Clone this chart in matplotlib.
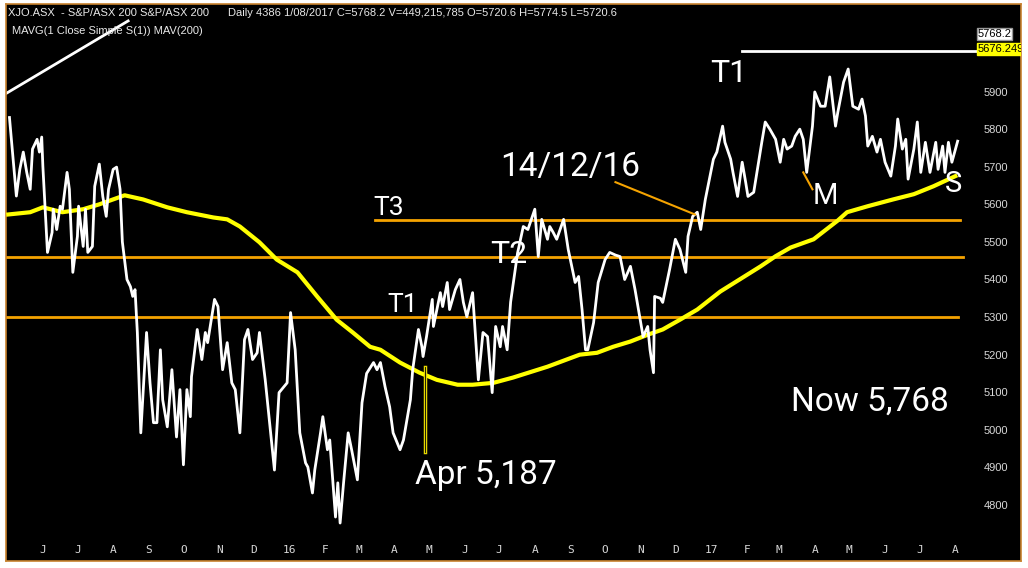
import matplotlib
matplotlib.use("Agg")
import matplotlib.pyplot as plt
import pandas as pd

# days since 1 June 2015 and closing level of the index
price_days = [-29, -23, -20, -17, -14, -11, -9, -5, -3, -1, 0, 4, 8, 9, 12, 15, 17, 21, 23, 26,
              30, 31, 35, 37, 39, 43, 45, 49, 52, 55, 57, 61, 64, 67, 69, 73, 76, 78, 80, 82,
              85, 90, 93, 96, 99, 102, 104, 108, 112, 116, 119, 122, 125, 128, 129, 134, 138, 141, 143, 149,
              152, 156, 160, 164, 167, 171, 175, 178, 182, 186, 188, 193, 201, 205, 212, 215, 219, 223, 228, 230,
              234, 236, 241, 243, 247, 249, 254, 256, 258, 261, 265, 268, 273, 277, 281, 287, 290, 293, 297, 301,
              304, 310, 313, 319, 321, 326, 329, 330, 333, 338, 339, 345, 347, 351, 353, 358, 362, 365, 368, 373,
              378, 382, 386, 390, 393, 397, 399, 403, 406, 412, 417, 421, 427, 430, 433, 438, 440, 443, 446, 452,
              456, 462, 465, 468, 471, 473, 478, 482, 488, 492, 497, 501, 505, 510, 514, 518, 521, 525, 527, 530,
              531, 536, 538, 544, 549, 553, 558, 560, 564, 568, 571, 575, 579, 582, 585, 590, 592, 597, 599, 603,
              607, 610, 612, 617, 624, 627, 631, 636, 640, 643, 646, 650, 653, 657, 660, 663, 668, 670, 675, 679,
              683, 688, 690, 695, 699, 703, 708, 711, 714, 716, 720, 724, 727, 731, 736, 740, 742, 746, 749, 751,
              756, 759, 762, 766, 770, 775, 777, 781, 783, 786, 789, 794]
price = [5831, 5622, 5693, 5739, 5685, 5640, 5747, 5773, 5739, 5779, 5701, 5472, 5525, 5587, 5533, 5595, 5587, 5685, 5640, 5419,
         5515, 5595, 5488, 5587, 5472, 5488, 5648, 5707, 5621, 5568, 5640, 5693, 5699, 5640, 5500, 5400, 5381, 5355, 5373, 5259,
         4992, 5259, 5125, 5019, 5019, 5213, 5080, 5008, 5160, 4981, 5107, 4907, 5107, 5035, 5141, 5267, 5187, 5259, 5232, 5347,
         5328, 5160, 5232, 5125, 5107, 4992, 5240, 5267, 5187, 5205, 5259, 5133, 4893, 5099, 5125, 5312, 5213, 4992, 4912, 4901,
         4832, 4893, 4992, 5035, 4947, 4973, 4768, 4859, 4752, 4859, 4992, 4947, 4867, 5072, 5150, 5179, 5160, 5179, 5115, 5061,
         4992, 4947, 4973, 5080, 5160, 5267, 5221, 5195, 5248, 5347, 5275, 5365, 5328, 5392, 5320, 5373, 5400, 5339, 5301, 5365,
         5133, 5259, 5248, 5099, 5275, 5221, 5275, 5213, 5340, 5470, 5541, 5533, 5587, 5461, 5560, 5507, 5541, 5525, 5507, 5560,
         5480, 5392, 5408, 5320, 5213, 5213, 5285, 5392, 5453, 5472, 5465, 5461, 5400, 5435, 5373, 5301, 5248, 5275, 5213, 5152,
         5355, 5350, 5339, 5427, 5507, 5480, 5419, 5515, 5568, 5579, 5533, 5613, 5675, 5720, 5739, 5808, 5765, 5720, 5685, 5621,
         5712, 5659, 5621, 5632, 5765, 5819, 5800, 5773, 5712, 5773, 5747, 5755, 5781, 5800, 5773, 5685, 5808, 5899, 5861, 5861,
         5939, 5808, 5845, 5925, 5960, 5861, 5853, 5880, 5835, 5755, 5781, 5739, 5773, 5712, 5675, 5755, 5827, 5747, 5773, 5667,
         5747, 5819, 5685, 5765, 5685, 5765, 5693, 5755, 5685, 5765, 5712, 5768]

# 200 day moving average
mav_days = [-30, -11, 0, 17, 35, 49, 71, 87, 108, 125, 148, 160, 171, 188, 203, 221, 238, 255, 269, 284,
            293, 310, 327, 342, 360, 373, 391, 408, 438, 466, 481, 495, 510, 525, 538, 553, 568, 588, 623, 636,
            649, 669, 690, 698, 716, 738, 756, 773, 792]
mav = [5573, 5579, 5592, 5579, 5587, 5600, 5624, 5613, 5592, 5579, 5565, 5560, 5541, 5499, 5453, 5419, 5355, 5293, 5259, 5221,
       5213, 5179, 5152, 5133, 5120, 5120, 5125, 5139, 5168, 5200, 5205, 5221, 5235, 5253, 5267, 5293, 5320, 5368, 5435, 5462,
       5485, 5507, 5557, 5579, 5595, 5613, 5627, 5648, 5675]

# support / resistance levels: (level, first day, last day)
levels = [(5300, -33, 794), (5461, -33, 799), (5557, 288, 796)]
t1_level = 6008
t1_span = (607, 814)

month_labels = ['J', 'J', 'A', 'S', 'O', 'N', 'D', '16', 'F', 'M', 'A', 'M', 'J', 'J',
                'A', 'S', 'O', 'N', 'D', '17', 'F', 'M', 'A', 'M', 'J', 'J', 'A']
y_ticks = [4800, 4900, 5000, 5100, 5200, 5300, 5400, 5500, 5600, 5700, 5800, 5900]

start = pd.Timestamp('2015-06-01')
def to_date(days):
    return start + pd.to_timedelta(days, unit='D')

fig = plt.figure(figsize=(10.28, 5.68), dpi=100, facecolor='white')
ax = fig.add_axes([6 / 1028, 7 / 568, 1015 / 1028, 557 / 568])
ax.set_facecolor('black')
for s in ax.spines.values():
    s.set_color('#c8822e')
    s.set_linewidth(1.2)

# levels
for lv, d0, d1 in levels:
    ax.plot([to_date(d0), to_date(d1)], [lv, lv], color='#f5a300', lw=2, zorder=2)
ax.plot([to_date(t1_span[0]), to_date(t1_span[1])], [t1_level, t1_level], color='white', lw=2, zorder=2)
ax.plot([to_date(-33), to_date(74)], [5893, 6088], color='white', lw=2, zorder=2)

ax.plot(to_date(mav_days), mav, color='#ffff00', lw=3, zorder=3)
ax.plot(to_date(price_days), price, color='white', lw=2, zorder=4)

# annotations
ax.plot([to_date(332), to_date(332)], [5168, 4941], color='#e6d800', lw=2.5, zorder=5)
ax.plot([to_date(332), to_date(332)], [5168, 4941], color='black', lw=0.6, zorder=5)
ax.plot([to_date(497), to_date(566)], [5659, 5573], color='#f5a300', lw=1.5, zorder=5)
ax.plot([to_date(660), to_date(668)], [5685, 5640], color='#f5a300', lw=1.5, zorder=5)

txt = dict(color='white', family='Roboto', fontweight='normal', va='center', ha='left', zorder=6)
ax.text(to_date(287), 5590, 'T3', fontsize=19, **txt)
ax.text(to_date(388), 5467, 'T2', fontsize=23, **txt)
ax.text(to_date(299), 5333, 'T1', fontsize=19, **txt)
ax.text(to_date(579), 5947, 'T1', fontsize=23, **txt)
ax.text(to_date(397), 5699, '14/12/16', fontsize=24, **txt)
ax.text(to_date(323), 4880, 'Apr 5,187', fontsize=24, **txt)
ax.text(to_date(649), 5075, 'Now 5,768', fontsize=24, **txt)
ax.text(to_date(668), 5621, 'M', fontsize=21, **txt)
ax.text(to_date(783), 5653, 'S', fontsize=21, **txt)

# header
hdr = dict(color='#e8e8e8', family='Liberation Sans', fontsize=8, transform=fig.transFigure, va='center')
fig.text(8 / 1028, 1 - 13 / 568, 'XJO.ASX  - S&P/ASX 200 S&P/ASX 200', **hdr)
fig.text(228 / 1028, 1 - 13 / 568,
         'Daily 4386 1/08/2017 C=5768.2 V=449,215,785 O=5720.6 H=5774.5 L=5720.6', **hdr)
fig.text(12 / 1028, 1 - 31 / 568, 'MAVG(1 Close Simple S(1)) MAV(200)', **hdr)

ax.text(0.957, 0.946, '5768.2', transform=ax.transAxes, fontsize=8, family='Liberation Sans',
        color='black', va='center', ha='left',
        bbox=dict(facecolor='white', edgecolor='#999999', pad=0.5))
ax.text(0.957, 0.919, '5676.2495', transform=ax.transAxes, fontsize=8, family='Liberation Sans',
        color='black', va='center', ha='left', clip_on=True,
        bbox=dict(facecolor='#ffff00', edgecolor='#ffff00', pad=0.5))

ax.set_ylim(4651, 6133)
ax.set_xlim(to_date(-32), to_date(849))
month_ticks = pd.date_range('2015-06-01', '2017-08-01', freq='MS')
ax.set_xticks(month_ticks)
ax.set_xticklabels(month_labels, family='DejaVu Sans Mono', fontsize=8, color='#d8d8d8')
ax.set_yticks(y_ticks)
ax.set_yticklabels([str(v) for v in y_ticks], family='Liberation Sans', fontsize=8, color='#d8d8d8')
ax.yaxis.tick_right()
ax.tick_params(axis='y', length=0, pad=-27)
ax.tick_params(axis='x', length=0, pad=-11.5)

fig.savefig('out.png', dpi=100, facecolor='white')
